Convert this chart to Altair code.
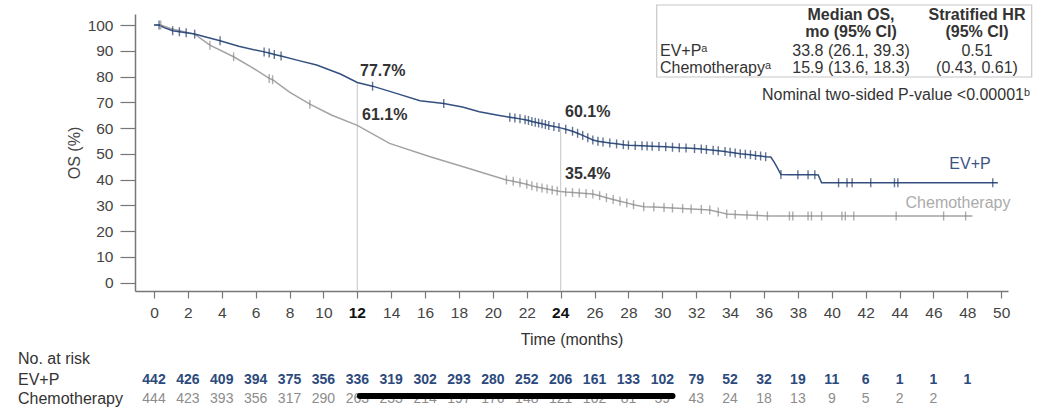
import altair as alt
import pandas as pd

FONT = "Liberation Sans"
NAVY = "#34507f"
NAVY_DARK = "#1f3a68"
GRAY = "#a3a3a3"
GRAY_DARK = "#8a8a8a"
FS = 16

# ---------------- data ----------------
evp_time = [0, 0.3, 0.6, 1.1, 1.5, 1.9, 2.4, 3.0, 3.9, 5.0, 6.2, 6.5, 6.8, 7.1, 7.5, 8.5, 9.6,
            11.0, 12.0, 12.9, 14.3, 15.7, 17.1, 18.2, 19.2, 20.3, 21.0, 21.3, 21.6, 21.9, 22.1,
            22.3, 22.5, 22.7, 22.9, 23.1, 23.3, 23.6, 23.9, 24.0, 24.3, 24.7, 25.0, 25.3, 25.6,
            25.9, 26.2, 26.5, 26.9, 27.3, 27.7, 28.0, 28.4, 28.8, 29.1, 29.4, 29.8, 30.2, 30.6,
            31.0, 31.4, 31.9, 32.3, 32.6, 33.0, 33.3, 33.7, 34.0, 34.3, 34.6, 34.9, 35.2, 35.5,
            35.8, 36.1, 36.4, 36.6, 36.8, 37.0, 37.5, 38.0, 38.6, 39.0, 39.2, 39.4, 40.4, 40.9,
            41.2, 42.3, 43.7, 43.9, 49.5, 49.8]
evp_surv = [100, 100, 99, 97.8, 97.4, 97.0, 96.5, 95.5, 93.9, 91.8, 90.0, 89.6, 89.2, 88.6, 88.0,
            86.3, 84.5, 81.0, 77.7, 76.3, 73.5, 70.6, 69.6, 68.2, 66.4, 65.0, 64.2, 63.9, 63.6,
            63.3, 63.0, 62.6, 62.3, 62.0, 61.7, 61.4, 61.0, 60.6, 60.3, 60.1, 59.6, 58.8, 58.0,
            57.2, 56.3, 55.4, 54.9, 54.6, 54.2, 53.9, 53.6, 53.4, 53.3, 53.2, 53.1, 53.0, 52.9,
            52.8, 52.6, 52.4, 52.3, 52.1, 51.9, 51.7, 51.4, 51.2, 50.9, 50.6, 50.4, 50.1, 49.9,
            49.7, 49.4, 49.2, 48.9, 48.8, 46.8, 44.5, 42.0, 41.9, 41.9, 41.9, 41.9, 41.8, 38.8,
            38.8, 38.8, 38.8, 38.8, 38.8, 38.8, 38.8, 38.8]
evp_cens = [0, 1, 0, 1, 1, 1, 1, 0, 1, 0, 0, 1, 1, 1, 1, 0, 0, 0, 0, 1, 0, 0, 1, 0, 0, 0, 1, 1, 1,
            1, 1, 1, 1, 1, 1, 1, 1, 1, 1, 0, 1, 1, 1, 1, 1, 1, 1, 1, 1, 1, 1, 1, 1, 1, 1, 1, 1, 1,
            1, 1, 1, 1, 1, 1, 1, 1, 1, 1, 1, 1, 1, 1, 1, 1, 1, 0, 0, 0, 1, 0, 1, 1, 1, 0, 0, 1, 1,
            1, 1, 1, 1, 1, 0]

chemo_time = [0, 0.4, 1.0, 2.4, 3.3, 4.7, 5.8, 6.8, 7.0, 8.0, 9.2, 10.5, 12.0, 13.9, 16.3, 18.25,
              19.5, 20.8, 21.2, 21.6, 22.0, 22.3, 22.6, 22.9, 23.2, 23.5, 23.8, 24.0, 24.3, 24.7,
              25.1, 25.5, 25.9, 26.3, 26.7, 27.1, 27.5, 27.9, 28.3, 28.9, 29.5, 30.1, 30.6, 31.2,
              31.7, 32.3, 32.8, 33.3, 33.8, 34.3, 35.0, 35.6, 36.2, 37.5, 37.7, 38.6, 38.8, 39.4,
              40.6, 40.8, 41.3, 43.8, 46.6, 47.9, 48.3]
chemo_surv = [100, 100, 98.6, 96.5, 92.2, 87.7, 83.5, 79.3, 78.8, 74.0, 69.3, 65.0, 61.1, 54.1,
              48.9, 45.0, 42.5, 39.9, 39.4, 38.8, 38.2, 37.6, 37.2, 36.8, 36.4, 36.0, 35.6, 35.4,
              35.2, 35.0, 34.8, 34.6, 34.4, 33.8, 33.0, 32.3, 31.6, 31.0, 30.3, 29.5, 29.4, 29.2,
              29.0, 28.8, 28.6, 28.4, 28.2, 27.5, 26.7, 26.5, 26.3, 26.1, 25.9, 25.9, 25.9, 25.9,
              25.9, 25.9, 25.9, 25.9, 25.9, 25.9, 25.9, 25.9, 25.9]
chemo_cens = [0, 1, 0, 0, 1, 1, 0, 1, 1, 0, 1, 0, 0, 0, 0, 0, 0, 1, 1, 1, 1, 1, 1, 1, 1, 1, 1, 0,
              1, 1, 1, 1, 1, 1, 1, 1, 1, 1, 1, 1, 1, 1, 1, 1, 1, 1, 1, 1, 1, 1, 1, 1, 1, 1, 1, 1, 1,
              1, 1, 1, 1, 1, 1, 1, 0]

risk_months = list(range(0, 50, 2))
evp_risk = [442, 426, 409, 394, 375, 356, 336, 319, 302, 293, 280, 252, 206, 161, 133, 102,
            79, 52, 32, 19, 11, 6, 1, 1, 1]
chemo_risk = [444, 423, 393, 356, 317, 290, 263, 233, 214, 197, 176, 148, 121, 102, 81, 59,
              43, 24, 18, 13, 9, 5, 2, 2]

x_ticks = list(range(0, 51, 2))
y_ticks = list(range(0, 101, 10))
bold_months = [12, 24]
ref_months = [12, 24]
ref_top = [77.7, 60.1]
bar_start = [12.15]
bar_end = [30.6]

X_DOMAIN = [-1.12, 50.4]
Y_DOMAIN = [-3.2, 104.3]

# ---------------- tables ----------------
evp = pd.DataFrame({"t": evp_time, "s": evp_surv, "c": evp_cens})
evp["i"] = range(len(evp))
chemo = pd.DataFrame({"t": chemo_time, "s": chemo_surv, "c": chemo_cens})
chemo["i"] = range(len(chemo))

xs = alt.Scale(domain=X_DOMAIN, nice=False, zero=False)
ys = alt.Scale(domain=Y_DOMAIN, nice=False, zero=False)

x_axis = alt.Axis(values=x_ticks, tickSize=7, tickColor="#777", domainColor="#777",
                  domainWidth=1.5, tickWidth=1.2, labelFontSize=15.5, labelColor="#444",
                  labelExpr="(datum.value == 12 || datum.value == 24) ? '' : datum.label",
                  labelPadding=7, title="Time (months)",
                  titleFontSize=FS, titleFontWeight="normal", titleColor="#333",
                  titlePadding=11, labelFont=FONT, titleFont=FONT)
y_axis = alt.Axis(values=y_ticks, tickSize=15, tickColor="#777", domainColor="#777",
                  domainWidth=1.5, tickWidth=1.2, labelFontSize=15.5, labelColor="#444",
                  labelPadding=7, title="OS (%)", titleFontSize=FS, titleFontWeight="normal",
                  titleColor="#444", titlePadding=5, labelFont=FONT, titleFont=FONT)


def X(field):
    return alt.X(field, scale=xs, axis=x_axis)


def Y(field):
    return alt.Y(field, scale=ys, axis=y_axis)


def curve(df, color, tick_color):
    line = alt.Chart(df).mark_line(color=color, strokeWidth=1.5, interpolate="linear").encode(
        x=X("t:Q"), y=Y("s:Q"), order=alt.Order("i:Q"))
    ticks = alt.Chart(df).transform_filter("datum.c == 1").mark_tick(
        orient="vertical", size=9, thickness=1.4, color=tick_color).encode(
        x=X("t:Q"), y=Y("s:Q"))
    return line, ticks


def label(text, px, py, size=FS, weight="normal", color="#333", align="left"):
    return alt.Chart(pd.DataFrame({"txt": [text]})).mark_text(
        font=FONT, fontSize=size, fontWeight=weight, color=color, align=align,
        baseline="middle").encode(x=alt.value(px), y=alt.value(py), text="txt:N")


ref_df = pd.DataFrame({"t": ref_months, "s": ref_top})
refs = alt.Chart(ref_df).mark_rule(color="#cfcfcf", strokeWidth=1.2).encode(
    x=X("t:Q"), y=Y("s:Q"), y2=alt.value(277))

evp_line, evp_ticks = curve(evp, NAVY, NAVY_DARK)
chemo_line, chemo_ticks = curve(chemo, GRAY, GRAY_DARK)

bold_labels = alt.Chart(pd.DataFrame({"t": bold_months})).mark_text(
    font=FONT, fontSize=15.5, fontWeight="bold", color="#111", baseline="middle").encode(
    x=X("t:Q"), y=alt.value(299), text="t:N")

risk_evp = alt.Chart(pd.DataFrame({"t": risk_months, "n": evp_risk})).mark_text(
    font=FONT, fontSize=14, fontWeight="bold", color="#2d4a7c", baseline="middle").encode(
    x=X("t:Q"), y=alt.value(366), text="n:N")
risk_chemo = alt.Chart(pd.DataFrame({"t": risk_months[:len(chemo_risk)], "n": chemo_risk})).mark_text(
    font=FONT, fontSize=14, color="#8c8c8c", baseline="middle").encode(
    x=X("t:Q"), y=alt.value(385), text="n:N")
bar = alt.Chart(pd.DataFrame({"a": bar_start, "b": bar_end})).mark_rule(
    color="black", strokeWidth=6, strokeCap="round").encode(
    x=X("a:Q"), x2="b", y=alt.value(382))

box = alt.Chart(pd.DataFrame({"k": [0]})).mark_rect(
    fill="white", stroke="#c8c8c8", strokeWidth=1.2).encode(
    x=alt.value(521.7), x2=alt.value(896.7), y=alt.value(-9), y2=alt.value(63))

texts = [
    label("Median OS,", 716, 1, weight="bold", align="center"),
    label("mo (95% CI)", 716, 18.3, weight="bold", align="center"),
    label("Stratified HR", 842, 1, weight="bold", align="center"),
    label("(95% CI)", 842, 18.3, weight="bold", align="center"),
    label("EV+Pᵃ", 525, 36.7),
    label("Chemotherapyᵃ", 525, 54.3),
    label("33.8 (26.1, 39.3)", 716, 36.7, align="center"),
    label("15.9 (13.6, 18.3)", 716, 54.3, align="center"),
    label("0.51", 842, 36.7, align="center"),
    label("(0.43, 0.61)", 842, 54.3, align="center"),
    label("Nominal two-sided P-value <0.00001ᵇ", 895, 81, align="right"),
    label("77.7%", 225, 56.7, weight="bold"),
    label("61.1%", 227, 101, weight="bold"),
    label("60.1%", 430, 97.7, weight="bold"),
    label("35.4%", 430, 160, weight="bold"),
    label("EV+P", 835, 150, color="#3b5383", align="center"),
    label("Chemotherapy", 823, 189, color="#ababab", align="center"),
    label("No. at risk", -117, 345),
    label("EV+P", -117, 366),
    label("Chemotherapy", -117, 385),
]

chart = alt.layer(
    box, refs, chemo_line, evp_line, chemo_ticks, evp_ticks,
    bold_labels, risk_evp, risk_chemo, bar, *texts
).properties(
    width=873, height=277,
    padding={"left": 135, "top": 14, "right": 50, "bottom": 119},
    autosize="none",
    background="white",
).configure_view(stroke=None).configure_axis(grid=False)

chart.save("out.html", embed_options={"renderer": "svg", "actions": False})
